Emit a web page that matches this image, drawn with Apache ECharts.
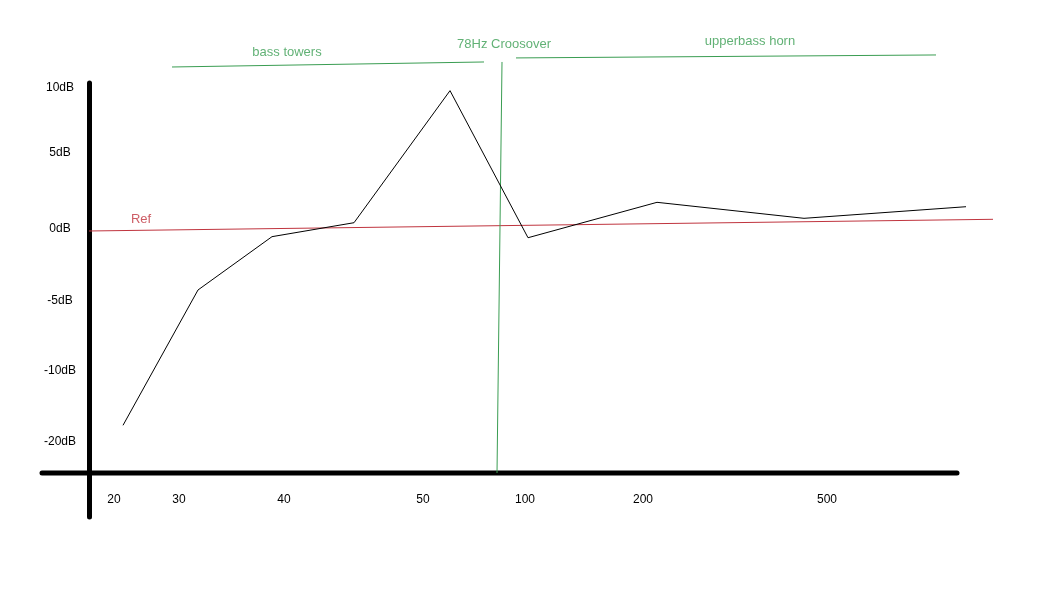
<!DOCTYPE html>
<html>
<head>
<meta charset="utf-8">
<script src="https://cdn.jsdelivr.net/npm/echarts@6/dist/echarts.min.js"></script>
<style>html,body{margin:0;padding:0;background:#fff}#c{width:1050px;height:591px}</style>
</head>
<body>
<div id="c"></div>
<script>
// Sketch units: x = position along the drawn frequency axis, y = position in dB-label steps above the baseline
const xTickPos = [2.5, 9.0, 19.5, 33.4, 43.6, 55.4, 73.8];
const xTickLabels = ['20', '30', '40', '50', '100', '200', '500'];
const yTickPos = [0.438, 1.441, 2.429, 3.446, 4.52, 5.438];
const yTickLabels = ['-20dB', '-10dB', '-5dB', '0dB', '5dB', '10dB'];

const responseX = [3.4, 10.9, 18.3, 26.5, 36.1, 43.9, 56.8, 71.5, 87.7];
const responseY = [0.674, 2.585, 3.338, 3.535, 5.40, 3.323, 3.823, 3.597, 3.761];

const refX = [0, 90.4];
const refY = [3.418, 3.583];

const baselineX = [-4.7, 86.8];
const baselineY = [0, 0];

const bassLineX = [8.3, 39.5];
const bassLineY = [5.734, 5.805];
const hornLineX = [42.7, 84.7];
const hornLineY = [5.862, 5.904];
const crossX = [41.3, 40.8];
const crossY = [5.805, 0];

const noteTexts = ['bass towers', '78Hz Croosover', 'upperbass horn'];
const noteX = [19.8, 41.5, 66.1];
const noteY = [5.946, 6.059, 6.102];
const refText = 'Ref';
const refTextX = 5.2;
const refTextY = 3.588;

const GREEN = '#3a9d52';
const RED = '#c0353f';
const FONT = '"Liberation Sans", Arial, sans-serif';

function zip(a, b) { return a.map((v, i) => [v, b[i]]); }
function lookup(val, pos, labels) {
  let best = 0, d = Infinity;
  pos.forEach((p, i) => { if (Math.abs(p - val) < d) { d = Math.abs(p - val); best = i; } });
  return labels[best];
}

const chart = echarts.init(document.getElementById('c'), null, {renderer: 'canvas'});
chart.setOption({
  animation: false,
  backgroundColor: '#ffffff',
  grid: {left: 42, right: 51, top: 83, bottom: 74, containLabel: false, outerBoundsMode: 'none'},
  xAxis: {
    type: 'value', min: -4.7, max: 91,
    axisLine: {show: false},
    axisTick: {show: false},
    splitLine: {show: false},
    axisLabel: {
      customValues: xTickPos,
      formatter: v => lookup(v, xTickPos, xTickLabels),
      margin: -23, color: '#000', fontSize: 12, fontFamily: FONT
    }
  },
  yAxis: {
    type: 'value', min: -0.621, max: 5.508,
    axisLine: {show: true, onZero: true, lineStyle: {color: '#000', width: 5, cap: 'round'}},
    axisTick: {show: false},
    splitLine: {show: false},
    axisLabel: {
      customValues: yTickPos,
      formatter: v => lookup(v, yTickPos, yTickLabels),
      align: 'center', margin: -18, color: '#000', fontSize: 12, fontFamily: FONT
    }
  },
  series: [
    {type: 'line', name: 'baseline', data: zip(baselineX, baselineY), symbol: 'none', clip: false, silent: true,
     lineStyle: {color: '#000', width: 5, cap: 'round'}},
    {type: 'line', name: 'ref', data: zip(refX, refY), symbol: 'none', clip: false, silent: true,
     lineStyle: {color: RED, width: 1}},
    {type: 'line', name: 'bass', data: zip(bassLineX, bassLineY), symbol: 'none', clip: false, silent: true,
     lineStyle: {color: GREEN, width: 1}},
    {type: 'line', name: 'horn', data: zip(hornLineX, hornLineY), symbol: 'none', clip: false, silent: true,
     lineStyle: {color: GREEN, width: 1}},
    {type: 'line', name: 'crossover', data: zip(crossX, crossY), symbol: 'none', clip: false, silent: true,
     lineStyle: {color: GREEN, width: 1}},
    {type: 'line', name: 'response', data: zip(responseX, responseY), symbol: 'none', clip: false, silent: true,
     lineStyle: {color: '#000', width: 1}},
    {type: 'scatter', name: 'notes', clip: false, silent: true, symbolSize: 1,
     itemStyle: {color: 'rgba(0,0,0,0)'},
     data: noteTexts.map((t, i) => ({value: [noteX[i], noteY[i]], name: t})),
     label: {show: true, position: 'inside', formatter: p => p.name, color: GREEN, fontSize: 13, fontFamily: FONT}},
    {type: 'scatter', name: 'refLabel', clip: false, silent: true, symbolSize: 1,
     itemStyle: {color: 'rgba(0,0,0,0)'},
     data: [{value: [refTextX, refTextY], name: refText}],
     label: {show: true, position: 'inside', formatter: p => p.name, color: RED, fontSize: 13, fontFamily: FONT}}
  ]
});
</script>
</body>
</html>
